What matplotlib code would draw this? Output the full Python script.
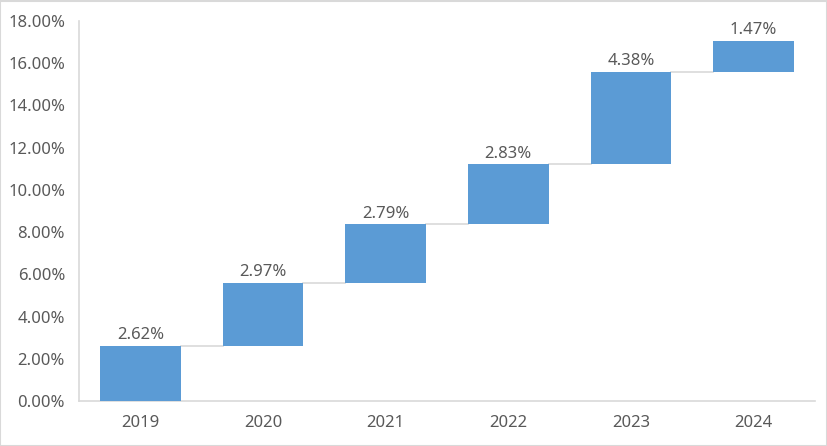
import matplotlib
matplotlib.use("Agg")
import matplotlib.pyplot as plt
from matplotlib.patches import Rectangle

years = ["2019", "2020", "2021", "2022", "2023", "2024"]
increments = [2.62, 2.97, 2.79, 2.83, 4.38, 1.47]
yticks = [0, 2, 4, 6, 8, 10, 12, 14, 16, 18]

plt.rcParams['font.family'] = ['Noto Sans', 'DejaVu Sans']

W, H = 828, 446
fig = plt.figure(figsize=(W/100, H/100), dpi=100)
ax = fig.add_axes([79/W, 1-401/H, (815-79)/W, (401-21)/H])

bar_color = "#5B9BD5"
text_color = "#595959"
grid_color = "#D9D9D9"

bottoms = []
cum = 0.0
for v in increments:
    bottoms.append(cum)
    cum += v
x = list(range(len(years)))
width = 0.66
ax.bar(x, increments, bottom=bottoms, width=width, color=bar_color, zorder=3)

# connectors
for i in range(len(years)-1):
    top = bottoms[i] + increments[i]
    ax.plot([i + width/2, i + 1 - width/2], [top, top], color=grid_color, lw=1.2, zorder=2)

for i, v in enumerate(increments):
    ax.text(i, bottoms[i] + v + 0.12, f"{v:.2f}%", ha="center", va="bottom",
            fontsize=12, color=text_color)

ax.set_xlim(-0.5, len(years)-0.5)
ax.set_ylim(0, 18)
ax.set_yticks(yticks)
ax.set_yticklabels([f"{t:.2f}%" for t in yticks])
ax.set_xticks(x)
ax.set_xticklabels(years)
ax.tick_params(axis='both', length=0, labelsize=12, colors=text_color)
ax.tick_params(axis='y', pad=10)
ax.tick_params(axis='x', pad=10)
for s in ["top", "right"]:
    ax.spines[s].set_visible(False)
for s in ["left", "bottom"]:
    ax.spines[s].set_color(grid_color)
    ax.spines[s].set_linewidth(1.2)

fig.patches.append(Rectangle((0.5/W, 0.5/H), 1-1.5/W, 1-1.5/H, transform=fig.transFigure,
                             fill=False, edgecolor="#D9D9D9", lw=1.5))

fig.savefig("out.png", dpi=100)
